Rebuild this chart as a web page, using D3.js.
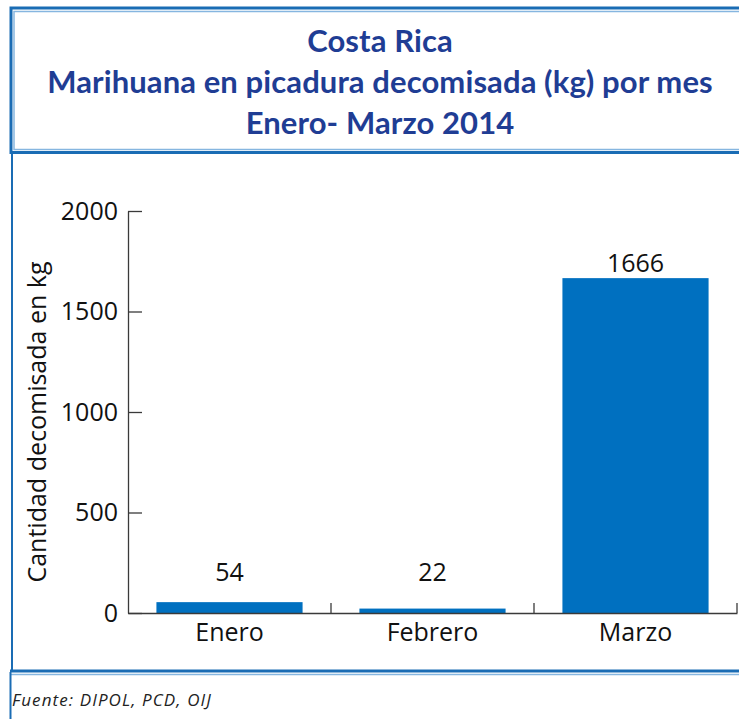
<!DOCTYPE html>
<html>
<head>
<meta charset="utf-8">
<script src="https://cdn.jsdelivr.net/npm/d3@7"></script>
<style>
  body { margin: 0; background: #fff; }
  svg { display: block; }
</style>
</head>
<body>
<div id="container"></div>
<script>
/* DATA */
const titleLines = ["Costa Rica", "Marihuana en picadura decomisada (kg) por mes", "Enero- Marzo 2014"];
const months = ["Enero", "Febrero", "Marzo"];
const kilos = [54, 22, 1666];
const yTicks = [0, 500, 1000, 1500, 2000];
const yLabel = "Cantidad decomisada en kg";
const source = "Fuente: DIPOL, PCD, OIJ";

/* CONSTANTS */
const width = 739, height = 719;
const plot = {left: 128, right: 737, top: 211, bottom: 613};
const dark = "#1a6cb4", light = "#86b6e0", barColor = "#0070c0", axisColor = "#3a3a3a";

const svg = d3.select("#container").append("svg")
  .attr("width", width)
  .attr("height", height);

/* FRAMES */
// title box: dark outer line + light inner line
svg.append("path")
  .attr("d", "M745,8 H11 V152.5 H745")
  .attr("fill", "none").attr("stroke", dark).attr("stroke-width", 3);
svg.append("path")
  .attr("d", "M745,11.5 H14 V149.5 H745")
  .attr("fill", "none").attr("stroke", light).attr("stroke-width", 1.5);
// chart box
svg.append("line").attr("x1", 12).attr("x2", 12).attr("y1", 154).attr("y2", 671)
  .attr("stroke", dark).attr("stroke-width", 2);
svg.append("line").attr("x1", 10).attr("x2", 745).attr("y1", 671).attr("y2", 671)
  .attr("stroke", dark).attr("stroke-width", 3);
// footer box
svg.append("line").attr("x1", 10).attr("x2", 745).attr("y1", 674.5).attr("y2", 674.5)
  .attr("stroke", light).attr("stroke-width", 1.5);
svg.append("line").attr("x1", 10.5).attr("x2", 10.5).attr("y1", 672).attr("y2", 719)
  .attr("stroke", dark).attr("stroke-width", 2);

/* TITLE */
svg.append("g").selectAll("text")
  .data(titleLines)
  .join("text")
  .attr("x", 380)
  .attr("y", (d, i) => 52 + i * 41)
  .attr("text-anchor", "middle")
  .attr("font-family", "Lato, sans-serif")
  .attr("font-weight", "bold")
  .attr("font-size", 31)
  .attr("letter-spacing", 0.1)
  .attr("fill", "#1f3d94")
  .text(d => d);

/* SCALES */
const xScale = d3.scaleBand()
  .domain(months)
  .range([plot.left, plot.right])
  .paddingInner(0.28)
  .paddingOuter(0.14);

const yScale = d3.scaleLinear()
  .domain([0, 2000])
  .range([plot.bottom, plot.top]);

/* BARS */
svg.append("g").selectAll("rect")
  .data(kilos)
  .join("rect")
  .attr("x", (d, i) => xScale(months[i]))
  .attr("width", xScale.bandwidth())
  .attr("y", d => yScale(d))
  .attr("height", d => yScale(0) - yScale(d))
  .attr("fill", barColor);

// value labels
svg.append("g").selectAll("text")
  .data(kilos)
  .join("text")
  .attr("x", (d, i) => xScale(months[i]) + xScale.bandwidth() / 2)
  .attr("y", d => Math.min(yScale(d) - 6, yScale(0) - 32))
  .attr("text-anchor", "middle")
  .attr("font-family", "'Open Sans', sans-serif")
  .attr("font-size", 25)
  .attr("fill", "#111")
  .text(d => d);

/* AXES */
const yAxis = d3.axisLeft(yScale)
  .tickValues(yTicks)
  .tickSize(-14)
  .tickPadding(10)
  .tickSizeOuter(0)
  .tickFormat(d3.format("d"));

const gy = svg.append("g")
  .attr("transform", `translate(${plot.left},0)`)
  .call(yAxis);
gy.select(".domain").attr("stroke", axisColor).attr("stroke-width", 1.3);
gy.selectAll(".tick line").attr("stroke", axisColor).attr("stroke-width", 1.3);
gy.selectAll(".tick text")
  .attr("font-family", "'Open Sans', sans-serif")
  .attr("font-size", 25)
  .attr("fill", "#111");

const xAxis = d3.axisBottom(xScale)
  .tickSize(0)
  .tickPadding(10)
  .tickSizeOuter(0);

const gx = svg.append("g")
  .attr("transform", `translate(0,${plot.bottom})`)
  .call(xAxis);
gx.select(".domain").attr("stroke", axisColor).attr("stroke-width", 1.3);
gx.selectAll(".tick text")
  .attr("font-family", "'Open Sans', sans-serif")
  .attr("font-size", 25)
  .attr("fill", "#111");

// category boundary ticks
gx.selectAll(".boundary")
  .data(months)
  .join("line")
  .attr("class", "boundary")
  .attr("x1", (d, i) => plot.left + xScale.step() * (i + 1))
  .attr("x2", (d, i) => plot.left + xScale.step() * (i + 1))
  .attr("y1", 0)
  .attr("y2", -10)
  .attr("stroke", axisColor)
  .attr("stroke-width", 1.3);

// y axis title
svg.append("text")
  .attr("transform", `translate(46,${(plot.top + plot.bottom) / 2 + 10}) rotate(-90)`)
  .attr("text-anchor", "middle")
  .attr("font-family", "'Open Sans', sans-serif")
  .attr("font-size", 25)
  .attr("fill", "#111")
  .text(yLabel);

/* SOURCE */
svg.append("text")
  .attr("x", 12)
  .attr("y", 706)
  .attr("font-family", "'Open Sans', sans-serif")
  .attr("font-style", "italic")
  .attr("font-size", 17)
  .attr("letter-spacing", 1.1)
  .attr("fill", "#222")
  .text(source);
</script>
</body>
</html>
